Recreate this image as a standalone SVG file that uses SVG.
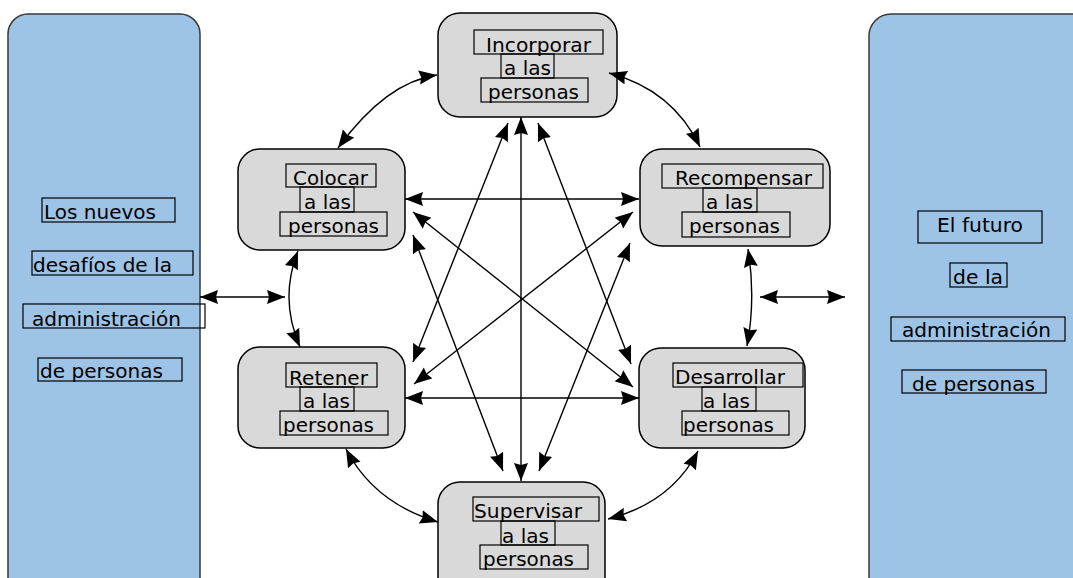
<svg xmlns="http://www.w3.org/2000/svg" width="1073" height="578" viewBox="0 0 1073 578">
<style>
.panel{fill:#9DC3E6;stroke:#3a3a3a;stroke-width:1.5}
.node{fill:#D9D9D9;stroke:#000;stroke-width:1.5}
.box{fill:none;stroke:#000;stroke-width:1.2}
.t{font-family:"DejaVu Sans",Verdana,sans-serif;font-size:19px;fill:#000}
.c{fill:none;stroke:#000;stroke-width:1.4;marker-start:url(#ah);marker-end:url(#ah)}
</style>
<defs>
<marker id="ah" markerUnits="userSpaceOnUse" markerWidth="20" markerHeight="15" refX="18" refY="7" orient="auto-start-reverse" viewBox="0 0 20 15">
<path d="M0,0 L18,7 L0,14 L2,7 z" fill="#000"/>
</marker>
</defs>
<rect width="1073" height="578" fill="#fff"/>

<g id="panel-left">
<rect class="panel" x="8" y="14" width="192" height="620" rx="20"/>
<rect class="box" x="42" y="198" width="133" height="24"/>
<text class="t" x="44" y="219" textLength="112" lengthAdjust="spacingAndGlyphs">Los nuevos</text>
<rect class="box" x="32" y="251" width="161" height="24"/>
<text class="t" x="33" y="272" textLength="139" lengthAdjust="spacingAndGlyphs">desafíos de la</text>
<rect class="box" x="23" y="304" width="182" height="24"/>
<text class="t" x="32" y="326" textLength="149" lengthAdjust="spacingAndGlyphs">administración</text>
<rect class="box" x="38" y="358" width="144" height="23"/>
<text class="t" x="40" y="378" textLength="123" lengthAdjust="spacingAndGlyphs">de personas</text>
</g>

<g id="panel-right">
<rect class="panel" x="869" y="14" width="240" height="620" rx="22"/>
<rect class="box" x="918" y="211" width="124" height="32"/>
<text class="t" x="937" y="232" textLength="86" lengthAdjust="spacingAndGlyphs">El futuro</text>
<rect class="box" x="950" y="263" width="57" height="24"/>
<text class="t" x="953" y="284" textLength="50" lengthAdjust="spacingAndGlyphs">de la</text>
<rect class="box" x="891" y="317" width="174" height="24"/>
<text class="t" x="902" y="337" textLength="149" lengthAdjust="spacingAndGlyphs">administración</text>
<rect class="box" x="902" y="370" width="144" height="23"/>
<text class="t" x="912" y="391" textLength="123" lengthAdjust="spacingAndGlyphs">de personas</text>
</g>

<g id="node-incorporar">
<rect class="node" x="438" y="13" width="179" height="104" rx="22"/>
<rect class="box" x="474" y="30" width="129" height="24"/>
<rect class="box" x="501" y="54" width="53" height="24"/>
<rect class="box" x="481" y="78" width="107" height="24"/>
<text class="t" x="486" y="52" textLength="105" lengthAdjust="spacingAndGlyphs">Incorporar</text>
<text class="t" x="504" y="75" textLength="47" lengthAdjust="spacingAndGlyphs">a las</text>
<text class="t" x="488" y="99" textLength="91" lengthAdjust="spacingAndGlyphs">personas</text>
</g>

<g id="node-colocar">
<rect class="node" x="238" y="149" width="167" height="101" rx="22"/>
<rect class="box" x="286" y="164" width="90" height="23"/>
<rect class="box" x="300" y="187" width="54" height="25"/>
<rect class="box" x="280" y="212" width="107" height="24"/>
<text class="t" x="293" y="185" textLength="75" lengthAdjust="spacingAndGlyphs">Colocar</text>
<text class="t" x="304" y="209" textLength="47" lengthAdjust="spacingAndGlyphs">a las</text>
<text class="t" x="288" y="233" textLength="91" lengthAdjust="spacingAndGlyphs">personas</text>
</g>

<g id="node-recompensar">
<rect class="node" x="640" y="149" width="190" height="97" rx="22"/>
<rect class="box" x="662" y="164" width="161" height="24"/>
<rect class="box" x="703" y="188" width="54" height="24"/>
<rect class="box" x="682" y="212" width="108" height="25"/>
<text class="t" x="675" y="185" textLength="137" lengthAdjust="spacingAndGlyphs">Recompensar</text>
<text class="t" x="706" y="209" textLength="47" lengthAdjust="spacingAndGlyphs">a las</text>
<text class="t" x="689" y="233" textLength="91" lengthAdjust="spacingAndGlyphs">personas</text>
</g>

<g id="node-retener">
<rect class="node" x="238" y="347" width="167" height="101" rx="22"/>
<rect class="box" x="286" y="363" width="91" height="24"/>
<rect class="box" x="300" y="387" width="54" height="24"/>
<rect class="box" x="280" y="411" width="108" height="24"/>
<text class="t" x="289" y="385" textLength="79" lengthAdjust="spacingAndGlyphs">Retener</text>
<text class="t" x="303" y="408" textLength="47" lengthAdjust="spacingAndGlyphs">a las</text>
<text class="t" x="283" y="432" textLength="91" lengthAdjust="spacingAndGlyphs">personas</text>
</g>

<g id="node-desarrollar">
<rect class="node" x="639" y="348" width="166" height="100" rx="22"/>
<rect class="box" x="673" y="363" width="130" height="24"/>
<rect class="box" x="702" y="387" width="54" height="24"/>
<rect class="box" x="682" y="411" width="107" height="24"/>
<text class="t" x="675" y="384" textLength="110" lengthAdjust="spacingAndGlyphs">Desarrollar</text>
<text class="t" x="703" y="408" textLength="47" lengthAdjust="spacingAndGlyphs">a las</text>
<text class="t" x="683" y="432" textLength="91" lengthAdjust="spacingAndGlyphs">personas</text>
</g>

<g id="node-supervisar">
<rect class="node" x="438" y="482" width="167" height="130" rx="22"/>
<rect class="box" x="473" y="497" width="126" height="24"/>
<rect class="box" x="501" y="521" width="54" height="24"/>
<rect class="box" x="480" y="545" width="108" height="24"/>
<text class="t" x="474" y="518" textLength="108" lengthAdjust="spacingAndGlyphs">Supervisar</text>
<text class="t" x="502" y="543" textLength="47" lengthAdjust="spacingAndGlyphs">a las</text>
<text class="t" x="483" y="566" textLength="91" lengthAdjust="spacingAndGlyphs">personas</text>
</g>

<g id="connectors">
<path class="c" d="M338,148 Q386,82 437,75"/>
<path class="c" d="M609,73 Q673,90 700,147"/>
<path class="c" d="M298,251 Q279,299 300,347"/>
<path class="c" d="M748,249 Q756,298 747,346"/>
<path class="c" d="M346,449 Q374,503 438,522"/>
<path class="c" d="M698,451 Q671,503 608,519"/>
<path class="c" d="M405,199 L639,199"/>
<path class="c" d="M405,398 L639,398"/>
<path class="c" d="M521,117 L521,481"/>
<path class="c" d="M508,123 L413,362"/>
<path class="c" d="M538,123 L631,364"/>
<path class="c" d="M413,212 L633,387"/>
<path class="c" d="M633,212 L414,384"/>
<path class="c" d="M413,235 L503,471"/>
<path class="c" d="M630,243 L539,471"/>
<path class="c" d="M200,297 L285,297"/>
<path class="c" d="M760,297 L845,297"/>
</g>
</svg>
